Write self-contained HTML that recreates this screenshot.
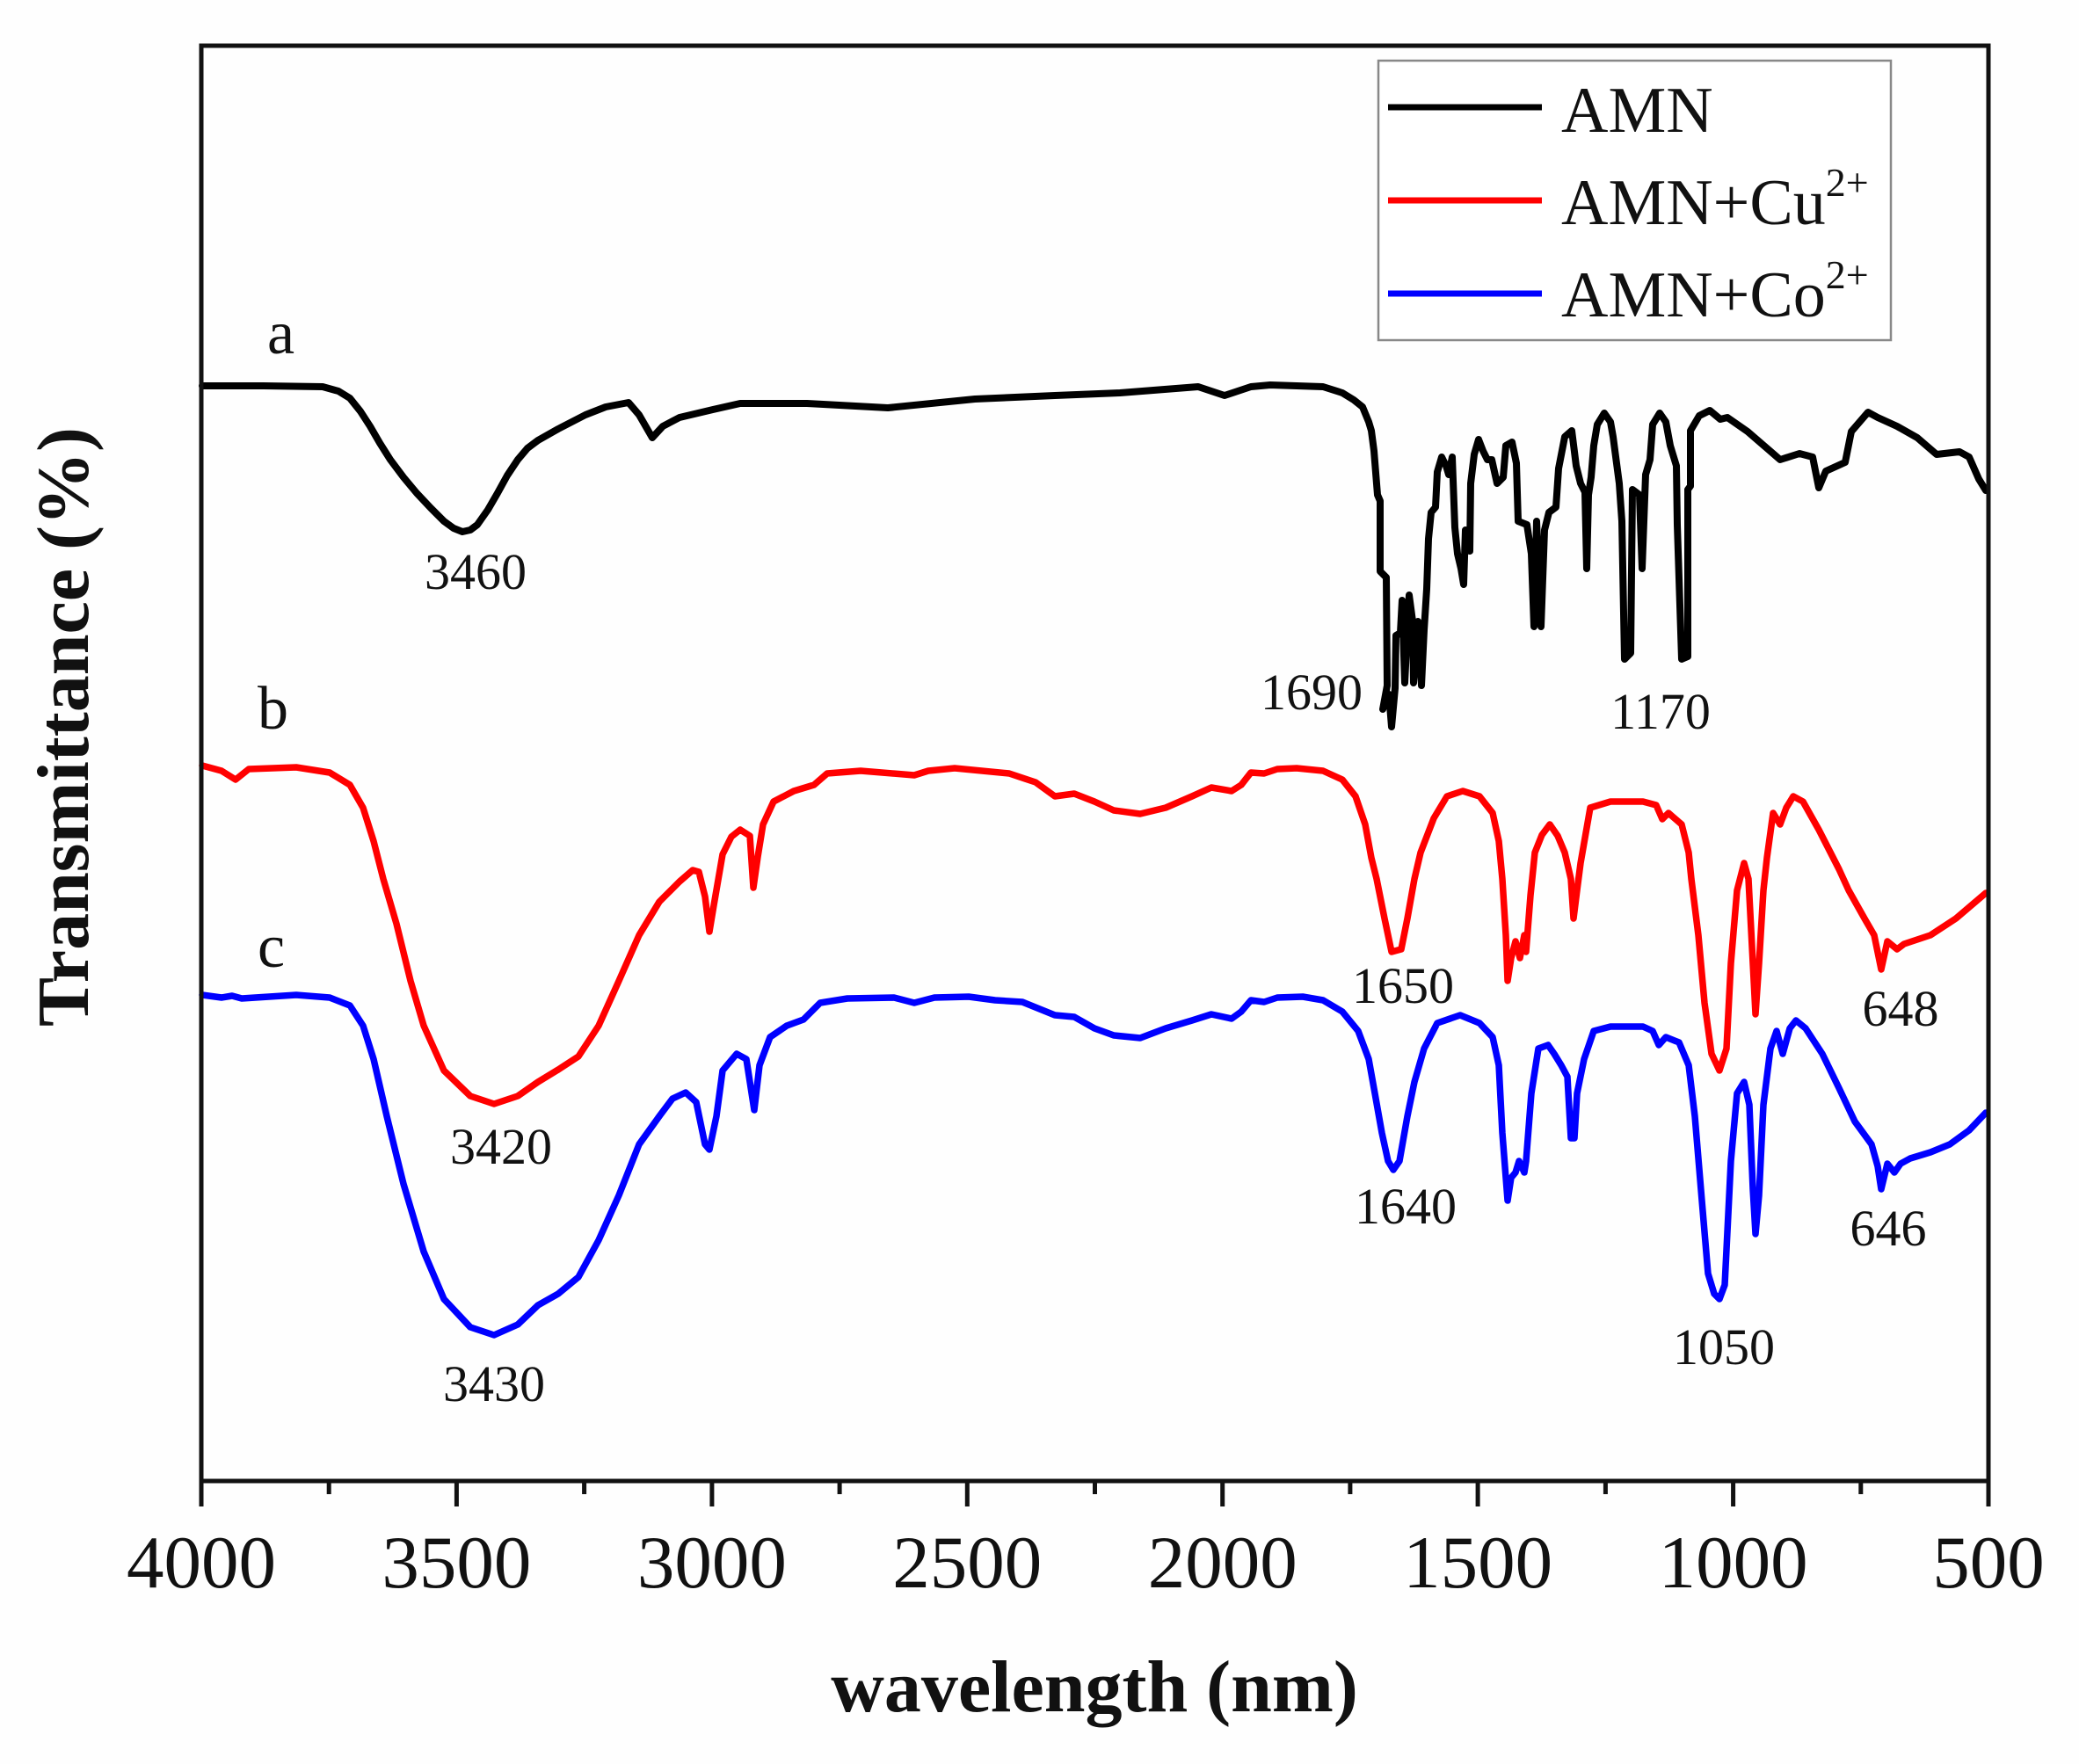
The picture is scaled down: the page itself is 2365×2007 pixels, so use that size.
<!DOCTYPE html>
<html>
<head>
<meta charset="utf-8">
<style>
html,body{margin:0;padding:0;background:#fff;}
svg{display:block;}
text{font-family:"Liberation Serif","DejaVu Serif",serif;fill:#111;}
</style>
</head>
<body>
<svg width="2365" height="2007" viewBox="0 0 2365 2007" xmlns="http://www.w3.org/2000/svg">
<rect x="0" y="0" width="2365" height="2007" fill="#fefefe"/>

<!-- curves -->
<g fill="none" stroke-linejoin="round" stroke-linecap="round">
<polyline stroke="#000" stroke-width="8" points="230,439 300,439 367,440 385,445 398,453 410,468 421,485 432,504 444,523 459,543 474,561 490,578 505,593 516,601 526,605 535,603 543,597 555,580 566,561 577,541 589,523 600,510 612,501 635,488 666,472 689,463 715,458 727,472 742,498 754,485 773,475 811,466 842,459 918,459 1010,464 1109,454 1200,450 1274,447 1363,440 1393,450 1423,440 1445,438 1505,440 1527,447 1540,455 1550,463 1557,480 1560,490 1563,513 1567,563 1570,570 1570,650 1577,657 1578,780 1573,807 1580,790 1583,827 1587,783 1588,723 1593,720 1595,683 1598,777 1603,677 1607,707 1608,777 1613,707 1617,780 1620,717 1623,670 1625,613 1628,583 1633,577 1635,537 1640,520 1645,530 1648,540 1652,520 1655,600 1658,630 1662,647 1665,665 1667,603 1672,627 1673,550 1677,517 1682,500 1687,513 1692,523 1697,523 1703,550 1710,543 1713,507 1720,503 1725,527 1727,593 1737,597 1742,630 1745,713 1748,593 1753,713 1757,603 1762,583 1770,577 1773,533 1780,497 1788,490 1793,530 1798,550 1803,560 1805,647 1807,563 1810,543 1813,507 1817,483 1825,470 1832,480 1835,497 1842,550 1845,593 1848,750 1855,743 1857,557 1865,563 1868,647 1872,540 1877,523 1880,483 1888,470 1895,480 1900,507 1907,530 1908,597 1913,750 1920,747 1920,557 1923,553 1923,490 1933,473 1945,467 1957,477 1965,475 1988,491 2010,510 2025,523 2047,516 2062,520 2069,555 2077,536 2099,526 2106,491 2125,469 2136,475 2158,485 2181,498 2203,517 2229,514 2240,520 2251,545 2259,558"/>
<polyline stroke="#ff0000" stroke-width="7.5" points="230,871 252,877 268,887 283,875 337,873 375,879 398,893 413,919 425,957 436,1000 451,1051 467,1116 482,1167 505,1218 535,1247 562,1256 589,1247 612,1231 635,1217 658,1202 681,1167 704,1116 727,1064 750,1026 773,1003 788,990 795,992 802,1020 807,1060 812,1030 822,972 832,952 842,944 853,951 857,1010 862,975 868,938 880,912 903,900 926,893 941,880 979,877 1040,882 1056,877 1086,874 1148,880 1178,890 1200,906 1222,903 1245,912 1267,922 1297,926 1326,919 1356,906 1378,896 1401,900 1412,893 1423,879 1438,880 1453,875 1475,874 1505,877 1527,887 1542,906 1553,938 1560,976 1566,1000 1575,1045 1583,1083 1594,1080 1601,1045 1609,1000 1616,970 1631,931 1646,906 1664,900 1683,906 1698,925 1705,957 1709,1000 1713,1064 1715,1116 1719,1090 1724,1071 1729,1090 1734,1064 1736,1083 1741,1019 1746,970 1754,950 1763,938 1772,951 1780,970 1787,1000 1790,1045 1794,1013 1798,982 1809,919 1832,912 1869,912 1884,916 1891,932 1898,925 1913,938 1921,970 1924,1000 1932,1064 1939,1141 1947,1199 1956,1218 1964,1193 1969,1096 1976,1013 1984,982 1989,1000 1994,1096 1997,1154 2001,1096 2006,1013 2010,976 2017,925 2025,938 2032,919 2040,906 2051,912 2069,944 2092,989 2103,1013 2121,1045 2132,1064 2140,1103 2147,1071 2158,1080 2166,1074 2196,1064 2225,1045 2259,1016"/>
<polyline stroke="#0000ff" stroke-width="7.5" points="230,1132 252,1135 264,1133 275,1136 337,1132 375,1135 398,1144 413,1167 425,1205 440,1270 459,1347 482,1424 505,1478 535,1510 562,1519 589,1507 612,1485 635,1472 658,1453 681,1411 704,1360 727,1302 750,1270 765,1250 780,1243 792,1254 802,1302 807,1308 815,1270 822,1218 838,1199 849,1205 858,1263 864,1212 876,1180 895,1167 914,1160 933,1141 964,1136 1017,1135 1040,1141 1063,1135 1102,1134 1132,1138 1163,1140 1200,1155 1222,1157 1245,1170 1267,1178 1297,1181 1326,1170 1356,1161 1378,1154 1401,1159 1412,1151 1423,1138 1438,1140 1453,1135 1482,1134 1505,1138 1527,1151 1545,1173 1557,1205 1564,1244 1572,1289 1579,1321 1585,1331 1592,1321 1601,1270 1609,1231 1620,1193 1635,1164 1661,1155 1683,1164 1698,1180 1705,1212 1709,1289 1715,1366 1719,1340 1724,1334 1728,1321 1734,1334 1736,1321 1742,1244 1750,1193 1761,1189 1768,1199 1776,1212 1783,1225 1787,1295 1791,1295 1794,1244 1802,1205 1813,1173 1832,1168 1869,1168 1880,1173 1887,1189 1895,1180 1910,1186 1921,1212 1928,1270 1936,1366 1943,1449 1950,1472 1956,1478 1962,1462 1969,1321 1976,1244 1984,1231 1990,1257 1994,1353 1997,1404 2001,1360 2006,1257 2014,1193 2021,1173 2028,1199 2036,1170 2043,1161 2054,1170 2073,1199 2092,1238 2110,1276 2129,1302 2136,1327 2140,1353 2147,1324 2155,1334 2162,1324 2173,1318 2196,1311 2218,1302 2240,1286 2259,1266"/>
</g>

<!-- frame -->
<rect x="229" y="52" width="2033" height="1633" fill="none" stroke="#111" stroke-width="5"/>

<!-- ticks -->
<g stroke="#111" stroke-width="5">
<line x1="229" y1="1685" x2="229" y2="1714"/>
<line x1="519.4" y1="1685" x2="519.4" y2="1714"/>
<line x1="809.9" y1="1685" x2="809.9" y2="1714"/>
<line x1="1100.3" y1="1685" x2="1100.3" y2="1714"/>
<line x1="1390.7" y1="1685" x2="1390.7" y2="1714"/>
<line x1="1681.1" y1="1685" x2="1681.1" y2="1714"/>
<line x1="1971.6" y1="1685" x2="1971.6" y2="1714"/>
<line x1="2262" y1="1685" x2="2262" y2="1714"/>
<line x1="374.2" y1="1685" x2="374.2" y2="1700"/>
<line x1="664.6" y1="1685" x2="664.6" y2="1700"/>
<line x1="955.1" y1="1685" x2="955.1" y2="1700"/>
<line x1="1245.5" y1="1685" x2="1245.5" y2="1700"/>
<line x1="1535.9" y1="1685" x2="1535.9" y2="1700"/>
<line x1="1826.4" y1="1685" x2="1826.4" y2="1700"/>
<line x1="2116.8" y1="1685" x2="2116.8" y2="1700"/>
</g>

<!-- tick labels -->
<g font-size="85" text-anchor="middle">
<text x="229" y="1806">4000</text>
<text x="519.4" y="1806">3500</text>
<text x="809.9" y="1806">3000</text>
<text x="1100.3" y="1806">2500</text>
<text x="1390.7" y="1806">2000</text>
<text x="1681.1" y="1806">1500</text>
<text x="1971.6" y="1806">1000</text>
<text x="2262" y="1806">500</text>
</g>

<!-- axis titles -->
<text x="1245" y="1947" font-size="84" font-weight="bold" text-anchor="middle">wavelength (nm)</text>
<text transform="translate(100,827) rotate(-90)" font-size="84" font-weight="bold" text-anchor="middle">Transmittance (%)</text>

<!-- curve letters -->
<g font-size="70">
<text x="304" y="402">a</text>
<text x="293" y="829">b</text>
<text x="293" y="1100">c</text>
</g>

<!-- peak labels -->
<g font-size="58" text-anchor="middle">
<text x="541" y="670">3460</text>
<text x="1492" y="807">1690</text>
<text x="1889" y="829">1170</text>
<text x="570" y="1324">3420</text>
<text x="1596" y="1141">1650</text>
<text x="2162" y="1167">648</text>
<text x="562" y="1594">3430</text>
<text x="1599" y="1392">1640</text>
<text x="2148" y="1417">646</text>
<text x="1961" y="1552">1050</text>
</g>

<!-- legend -->
<rect x="1568" y="69" width="583" height="318" fill="#fff" stroke="#888" stroke-width="2.5"/>
<g stroke-width="7">
<line x1="1579" y1="122" x2="1754" y2="122" stroke="#000"/>
<line x1="1579" y1="228" x2="1754" y2="228" stroke="#ff0000"/>
<line x1="1579" y1="334" x2="1754" y2="334" stroke="#0000ff"/>
</g>
<g font-size="74">
<text x="1776" y="150">AMN</text>
<text x="1776" y="255">AMN+Cu<tspan font-size="46" dy="-32">2+</tspan></text>
<text x="1776" y="360">AMN+Co<tspan font-size="46" dy="-32">2+</tspan></text>
</g>
</svg>
</body>
</html>
